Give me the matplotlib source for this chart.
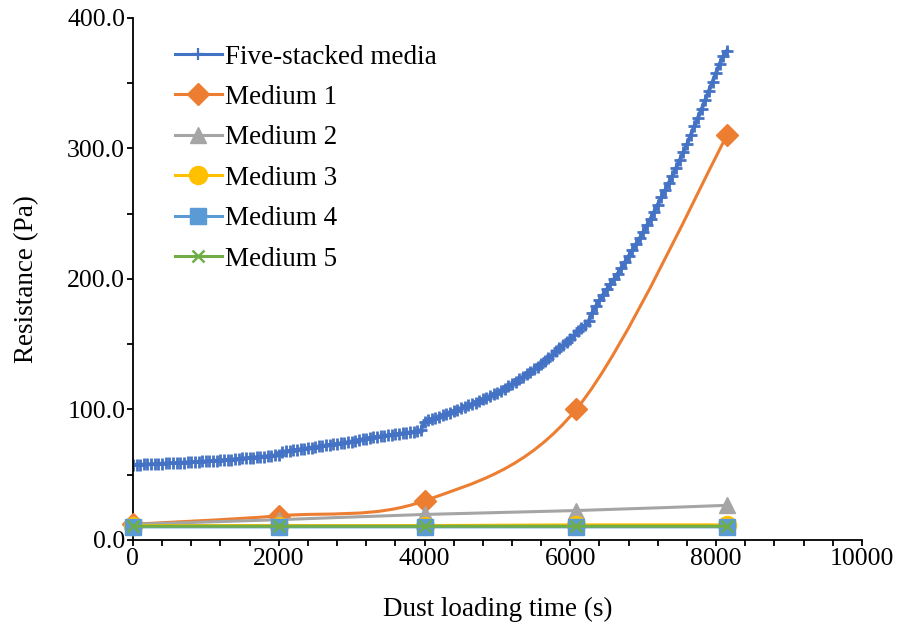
import numpy as np
import matplotlib.pyplot as plt
from matplotlib.path import Path
from matplotlib.patches import PathPatch
from matplotlib.lines import Line2D
from matplotlib.ticker import MultipleLocator, FormatStrFormatter

plt.rcParams['font.family'] = ['Liberation Serif', 'DejaVu Serif']

# five-stacked media, logged every 50 s
t_stack = np.arange(0, 8151, 50)
r_stack = [
    57.5, 57.6, 57.6, 57.8, 57.9, 58.0, 58.1, 58.3, 58.4, 58.6, 58.8,
    58.9, 59.0, 59.2, 59.3, 59.5, 59.6, 59.8, 59.9, 60.1, 60.2,
    60.4, 60.6, 60.8, 61.0, 61.2, 61.4, 61.6, 61.8, 62.1, 62.4,
    62.6, 62.9, 63.1, 63.4, 63.7, 63.9, 64.2, 64.5, 64.8, 65.1,
    67.6, 67.9, 68.3, 68.7, 69.1, 69.5, 69.9, 70.3, 70.8, 71.2,
    71.6, 72.0, 72.4, 72.8, 73.2, 73.6, 74.0, 74.5, 74.9, 75.4,
    76.1, 76.6, 77.1, 77.6, 78.1, 78.6, 79.0, 79.4, 79.8, 80.2,
    80.6, 81.0, 81.3, 81.7, 82.0, 82.4, 82.8, 83.2, 84.0, 90.5,
    91.5, 92.5, 93.5, 94.5, 95.5, 96.5, 97.5, 98.5, 99.6, 100.8,
    101.9, 103.0, 104.1, 105.2, 106.4, 107.6, 108.8, 110.1, 111.5, 112.9,
    114.4, 116.0, 117.7, 119.4, 121.2, 123.0, 124.9, 126.8, 128.7, 130.6,
    132.8, 135.0, 137.3, 139.6, 142.0, 144.4, 146.8, 149.2, 151.7, 154.2,
    157.0, 160.0, 162.5, 164.5, 167.5, 174.0, 179.0, 183.5, 188.0, 192.0,
    196.0, 200.0, 204.0, 208.5, 213.0, 217.5, 222.0, 226.5, 231.0, 236.0,
    241.0, 246.0, 251.5, 257.0, 262.5, 268.0, 273.5, 279.0, 285.0, 291.0,
    297.0, 303.0, 310.0, 317.0, 323.5, 330.0, 337.0, 344.0, 351.0, 358.0,
    365.0, 371.0, 375.0,
]

# single media, measured at 5 times
t_med = [0, 2010, 4000, 6080, 8150]
r_med1 = [12, 18.5, 30, 100, 310]
r_med2 = [12, 15.5, 19.5, 22.5, 26.5]
r_med3 = [11, 11, 11, 11.5, 11.5]
r_med4 = [10, 10, 10, 10, 10]
r_med5 = [10.5, 10.5, 10.5, 10.5, 10.5]

labels = ['Five-stacked media', 'Medium 1', 'Medium 2', 'Medium 3', 'Medium 4', 'Medium 5']
colors = ['#4472C4', '#ED7D31', '#A5A5A5', '#FFC000', '#5B9BD5', '#70AD47']


def smooth_path(x, y):
    # Excel-like smoothed line: cubic bezier through the points
    p = np.column_stack([x, y]).astype(float)
    n = len(p)
    verts = [p[0]]
    codes = [Path.MOVETO]
    for i in range(n - 1):
        p0 = p[max(i - 1, 0)]
        p1 = p[i]
        p2 = p[i + 1]
        p3 = p[min(i + 2, n - 1)]
        verts += [p1 + (p2 - p0) / 6.0, p2 - (p3 - p1) / 6.0, p2]
        codes += [Path.CURVE4] * 3
    return Path(verts, codes)


fig = plt.figure(figsize=(9.04, 6.30), dpi=100)
ax = fig.add_axes([0.147, 0.143, 0.8065, 0.8286])

ax.plot(t_stack, r_stack, color=colors[0], lw=2.8, marker='+', ms=9, mew=2, zorder=2)

media = [
    (r_med1, 'D', 11),
    (r_med2, '^', 11),
    (r_med3, 'o', 13),
    (r_med4, 's', 11),
    (r_med5, 'x', 8),
]
handles = [Line2D([], [], color=colors[0], lw=2.2, marker='+', ms=8, mew=1.6)]
for k, (vals, mk, size) in enumerate(media):
    c = colors[k + 1]
    z = 3 + k
    ax.add_patch(PathPatch(smooth_path(t_med, vals), fill=False, edgecolor=c, lw=2.2, zorder=z))
    ax.plot(t_med, vals, linestyle='none', marker=mk, ms=size, color=c,
            mew=1.8 if mk == 'x' else 1, zorder=z + 0.5, clip_on=False)
    handles.append(Line2D([], [], color=c, lw=2.2, marker=mk, ms=size,
                          mew=1.8 if mk == 'x' else 1))

ax.set_xlim(0, 10000)
ax.set_ylim(0, 400)
ax.xaxis.set_major_locator(MultipleLocator(2000))
ax.xaxis.set_minor_locator(MultipleLocator(400))
ax.yaxis.set_major_locator(MultipleLocator(100))
ax.yaxis.set_minor_locator(MultipleLocator(50))
ax.yaxis.set_major_formatter(FormatStrFormatter('%.1f'))
ax.tick_params(which='both', direction='out', width=1.3, length=4.5, labelsize=18.5)
ax.tick_params(axis='x', which='major', pad=1)
ax.tick_params(axis='y', which='major', pad=1)
ax.spines['top'].set_visible(False)
ax.spines['right'].set_visible(False)
ax.spines['left'].set_linewidth(1.3)
ax.spines['bottom'].set_linewidth(1.3)

ax.set_xlabel('Dust loading time (s)', fontsize=19.5)
ax.set_ylabel('Resistance (Pa)', fontsize=19.5)
ax.xaxis.set_label_coords(0.5, -0.109)
ax.yaxis.set_label_coords(-0.128, 0.5)

ax.legend(handles, labels, loc='upper left', bbox_to_anchor=(0.0576, 0.949),
          frameon=False, fontsize=19.5, handlelength=1.74, handletextpad=0.12,
          labelspacing=0.57, borderpad=0, borderaxespad=0)

fig.savefig('out.png', dpi=100)
